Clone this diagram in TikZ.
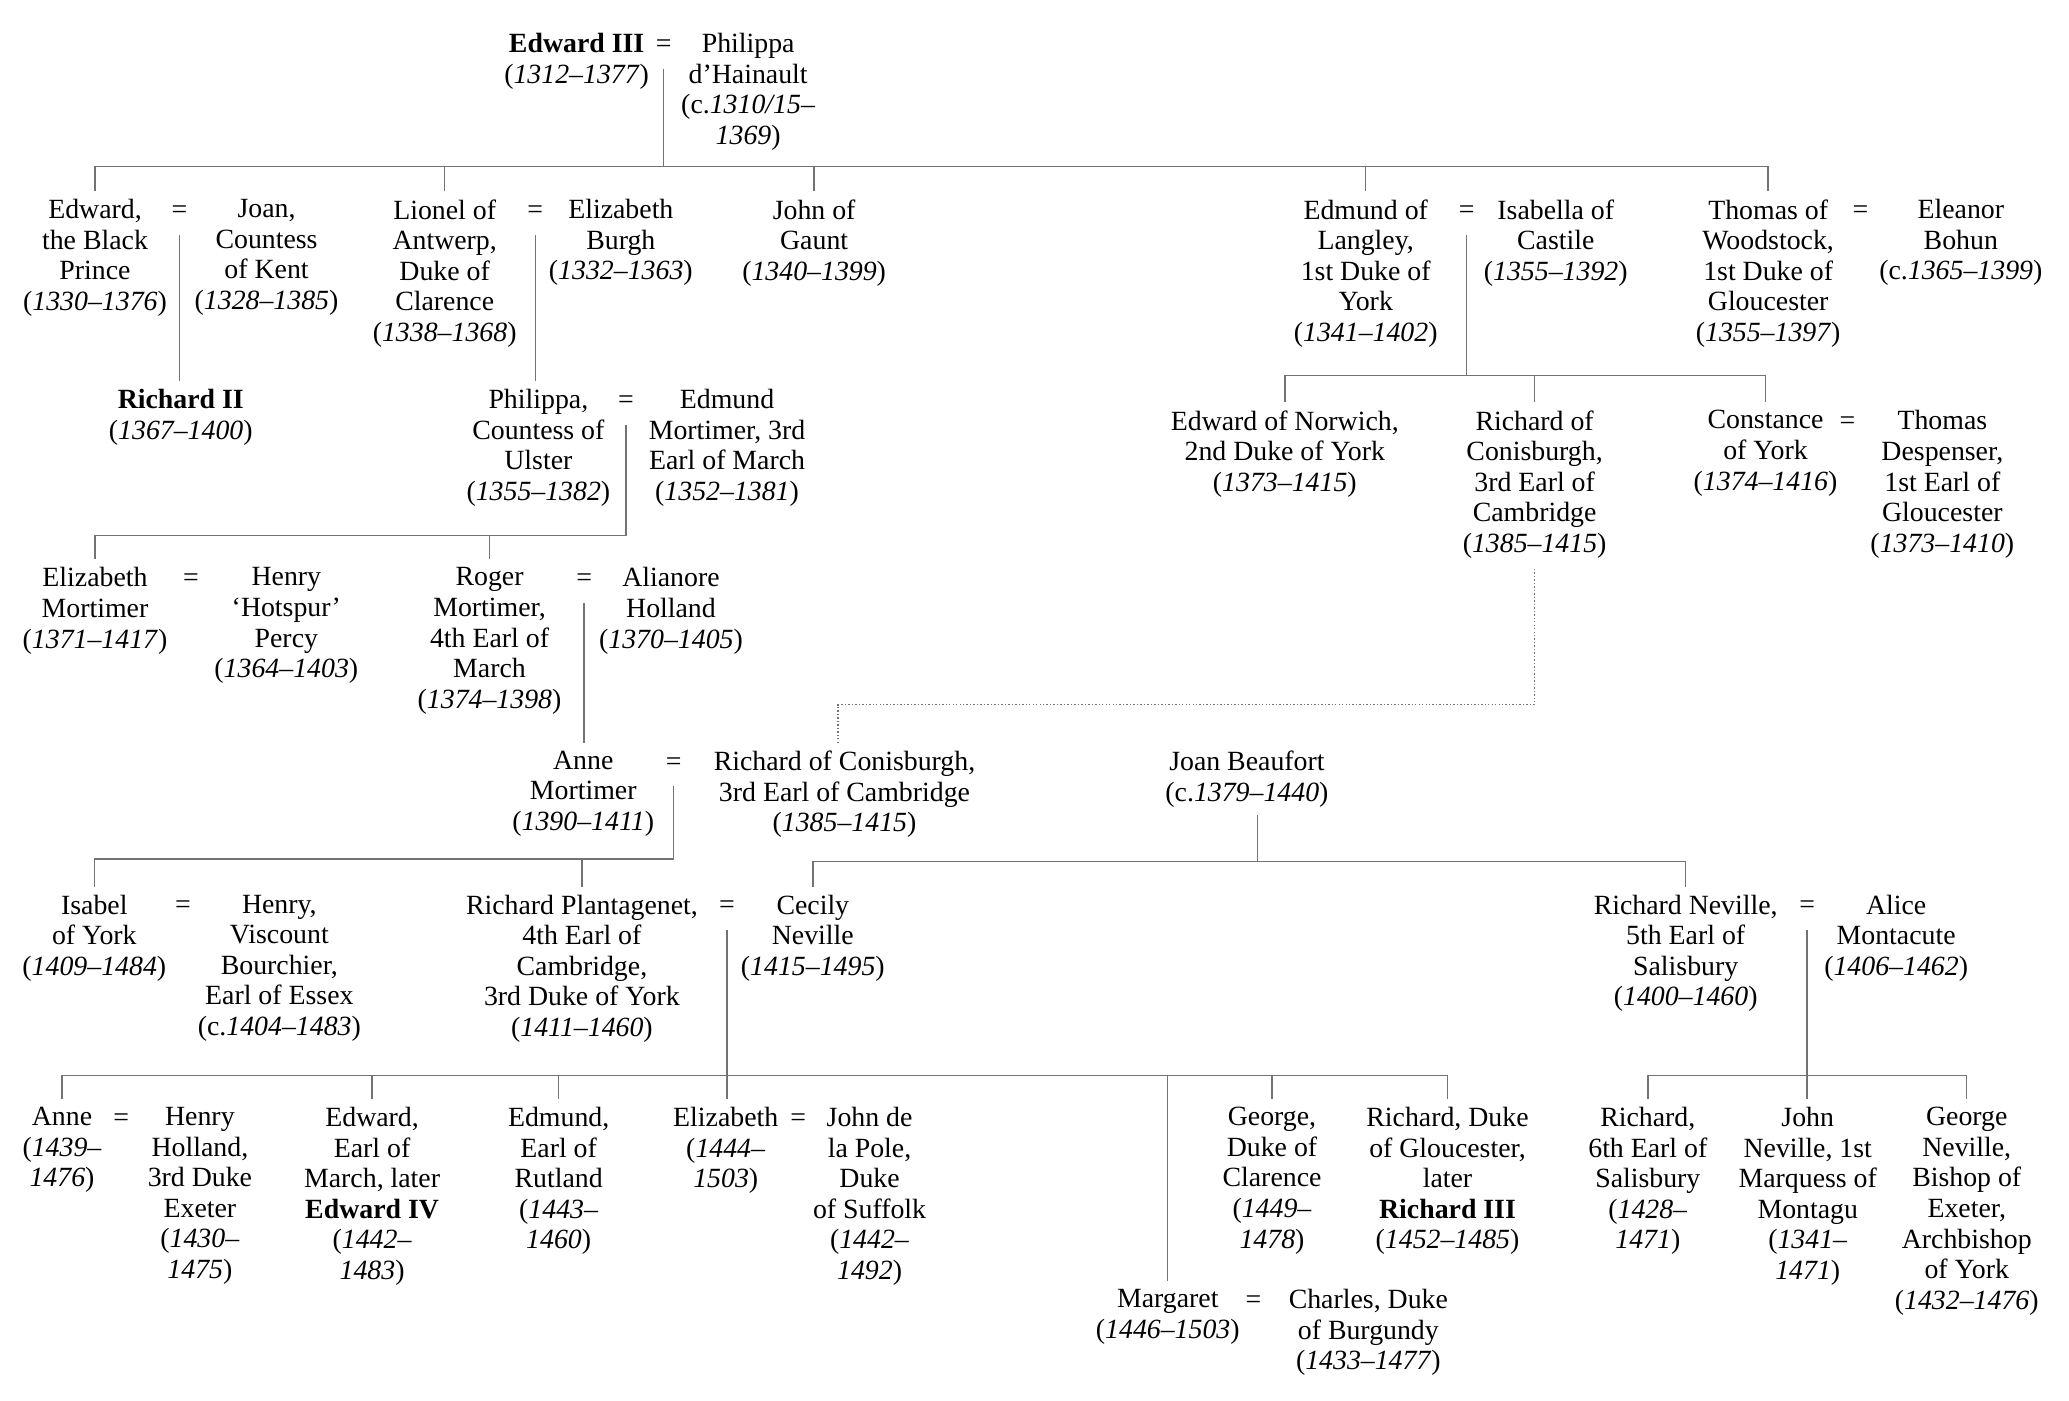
\documentclass[tikz,border=0pt]{standalone}
\usepackage{fontspec}
\setmainfont{Liberation Serif}
\usepackage{tikz}
\usetikzlibrary{calc}
\newcommand{\yr}[1]{(\textit{#1})}

\begin{document}
\begin{tikzpicture}[
      x=0.02cm, y=-0.02cm,
      person/.style={align=center, anchor=north, inner sep=0pt, outer ysep=3.5pt, font=\fontsize{12}{13.2}\selectfont},
      wed/.style={person, text height=8.2pt, text depth=3.6pt},
      kin/.style={draw=black!55, line width=0.6pt},
      kindot/.style={kin, dash pattern=on 0.6pt off 0.9pt}
    ]
      \useasboundingbox (0,0) rectangle (1568,1061);

      \node[person] (e3) at (437,19) {\textbf{Edward III}\\\yr{1312–1377}};
      \node[wed] (m0) at (503,19) {=};
      \node[person] (php) at (567,19) {Philippa\\d’Hainault\\(c.\textit{1310/15–}\\\textit{1369})};

      \node[person] (ebp) at (72,145) {Edward,\\the Black\\Prince\\\yr{1330–1376}};
      \node[wed] (m1) at (136,145) {=};
      \node[person] (joa) at (202,145) {Joan,\\Countess\\of Kent\\\yr{1328–1385}};
      \node[person] (lio) at (337,145) {Lionel of\\Antwerp,\\Duke of\\Clarence\\\yr{1338–1368}};
      \node[wed] (m2) at (405.6,145) {=};
      \node[person] (ebu) at (470.5,145) {Elizabeth\\Burgh\\\yr{1332–1363}};
      \node[person] (jog) at (617,145) {John of\\Gaunt\\\yr{1340–1399}};
      \node[person] (edl) at (1035,145) {Edmund of\\Langley,\\1st Duke of\\York\\\yr{1341–1402}};
      \node[wed] (m3) at (1111.5,145) {=};
      \node[person] (isc) at (1179,145) {Isabella of\\Castile\\\yr{1355–1392}};
      \node[person] (thw) at (1340,145) {Thomas of\\Woodstock,\\1st Duke of\\Gloucester\\\yr{1355–1397}};
      \node[wed] (m4) at (1410,145) {=};
      \node[person] (elb) at (1486,145) {Eleanor\\Bohun\\(c.\textit{1365–1399})};

      \node[person] (ri2) at (137,289) {\textbf{Richard II}\\\yr{1367–1400}};
      \node[person] (phu) at (408,289) {Philippa,\\Countess of\\Ulster\\\yr{1355–1382}};
      \node[wed] (m5) at (474.4,289) {=};
      \node[person] (emo) at (551,289) {Edmund\\Mortimer, 3rd\\Earl of March\\\yr{1352–1381}};

      \node[person] (eno) at (973.7,305) {Edward of Norwich,\\2nd Duke of York\\\yr{1373–1415}};
      \node[person] (rc1) at (1163,305) {Richard of\\Conisburgh,\\3rd Earl of\\Cambridge\\\yr{1385–1415}};
      \node[person] (cst) at (1338,305) {Constance\\of York\\\yr{1374–1416}};
      \node[wed] (m6) at (1400,305) {=};
      \node[person] (tde) at (1472,305) {Thomas\\Despenser,\\1st Earl of\\Gloucester\\\yr{1373–1410}};

      \node[person] (elm) at (72,424) {Elizabeth\\Mortimer\\\yr{1371–1417}};
      \node[wed] (m7) at (144.7,424) {=};
      \node[person] (hho) at (217,424) {Henry\\‘Hotspur’\\Percy\\\yr{1364–1403}};
      \node[person] (rog) at (371,424) {Roger\\Mortimer,\\4th Earl of\\March\\\yr{1374–1398}};
      \node[wed] (m8) at (442.7,424) {=};
      \node[person] (aho) at (508.5,424) {Alianore\\Holland\\\yr{1370–1405}};

      \node[person] (anm) at (442,563) {Anne\\Mortimer\\\yr{1390–1411}};
      \node[wed] (m9) at (510.5,563) {=};
      \node[person] (rc2) at (640,563) {Richard of Conisburgh,\\3rd Earl of Cambridge\\\yr{1385–1415}};
      \node[person] (jbe) at (945,563) {Joan Beaufort\\(c.\textit{1379–1440})};

      \node[person] (isy) at (71.5,672) {Isabel\\of York\\\yr{1409–1484}};
      \node[wed] (m10) at (138.7,672) {=};
      \node[person] (hbo) at (211.7,672) {Henry,\\Viscount\\Bourchier,\\Earl of Essex\\(c.\textit{1404–1483})};
      \node[person] (rpl) at (441,672) {Richard Plantagenet,\\4th Earl of\\Cambridge,\\3rd Duke of York\\\yr{1411–1460}};
      \node[wed] (m11) at (551,672) {=};
      \node[person] (cne) at (616,672) {Cecily\\Neville\\\yr{1415–1495}};
      \node[person] (rne) at (1277.5,672) {Richard Neville,\\5th Earl of\\Salisbury\\\yr{1400–1460}};
      \node[wed] (m12) at (1369.5,672) {=};
      \node[person] (amo) at (1437,672) {Alice\\Montacute\\\yr{1406–1462}};

      \node[person] (an6) at (47,833) {Anne\\(\textit{1439–}\\\textit{1476})};
      \node[wed] (m13) at (91.8,833) {=};
      \node[person] (hhl) at (151.5,833) {Henry\\Holland,\\3rd Duke\\Exeter\\(\textit{1430–}\\\textit{1475})};
      \node[person] (ed4) at (282,833) {Edward,\\Earl of\\March, later\\\textbf{Edward IV}\\(\textit{1442–}\\\textit{1483})};
      \node[person] (edr) at (423.4,833) {Edmund,\\Earl of\\Rutland\\(\textit{1443–}\\\textit{1460})};
      \node[person] (elz) at (550,833) {Elizabeth\\(\textit{1444–}\\\textit{1503})};
      \node[wed] (m14) at (605,833) {=};
      \node[person] (jdp) at (659,833) {John de\\la Pole,\\Duke\\of Suffolk\\(\textit{1442–}\\\textit{1492})};
      \node[person] (gcl) at (964,833) {George,\\Duke of\\Clarence\\(\textit{1449–}\\\textit{1478})};
      \node[person] (ri3) at (1097,833) {Richard, Duke\\of Gloucester,\\later\\\textbf{Richard III}\\\yr{1452–1485}};
      \node[person] (rsa) at (1248.8,833) {Richard,\\6th Earl of\\Salisbury\\(\textit{1428–}\\\textit{1471})};
      \node[person] (jne) at (1370,833) {John\\Neville, 1st\\Marquess of\\Montagu\\(\textit{1341–}\\\textit{1471})};
      \node[person] (gne) at (1490.5,833) {George\\Neville,\\Bishop of\\Exeter,\\Archbishop\\of York\\\yr{1432–1476}};

      \node[person] (mar) at (885,971) {Margaret\\\yr{1446–1503}};
      \node[wed] (m15) at (950,971) {=};
      \node[person] (cha) at (1037,971) {Charles, Duke\\of Burgundy\\\yr{1433–1477}};

      \coordinate (b0) at (503,126);
      \coordinate (b1) at (1111.5,284.7);
      \coordinate (b2) at (474.4,406);
      \coordinate (b3) at (510.5,651);
      \coordinate (b4) at (953,653);
      \coordinate (b5) at (551,815);
      \coordinate (b6) at (1369.5,815);
      \coordinate (dj) at (635,534);

      \draw[kin] (m0.south) -- (b0);
      \draw[kin] (ebp.north) |- (b0) -| (thw.north);
      \draw[kin] (lio.north) -- (lio.north |- b0);
      \draw[kin] (jog.north) -- (jog.north |- b0);
      \draw[kin] (edl.north) -- (edl.north |- b0);

      \draw[kin] (m1.south) -- (m1.south |- ri2.north);
      \draw[kin] (m2.south) -- (m2.south |- phu.north);

      \draw[kin] (m3.south) -- (b1);
      \draw[kin] (eno.north) |- (b1) -| (cst.north);
      \draw[kin] (rc1.north) -- (rc1.north |- b1);

      \draw[kin] (m5.south) -- (b2) -| (elm.north);
      \draw[kin] (rog.north) -- (rog.north |- b2);

      \draw[kin] (m8.south) -- (m8.south |- anm.north);
      \draw[kindot] ([yshift=-1pt]rc1.south) |- (dj) -- (dj |- rc2.north);

      \draw[kin] (m9.south) -- (b3) -| (isy.north);
      \draw[kin] (rpl.north) -- (rpl.north |- b3);

      \draw[kin] (jbe.south -| b4) -- (b4);
      \draw[kin] (cne.north) |- (b4) -| (rne.north);

      \draw[kin] (m11.south) -- (m11.south |- elz.north);
      \draw[kin] (an6.north) |- (b5) -| (ri3.north);
      \draw[kin] (ed4.north) -- (ed4.north |- b5);
      \draw[kin] (edr.north) -- (edr.north |- b5);
      \draw[kin] (mar.north) -- (mar.north |- b5);
      \draw[kin] (gcl.north) -- (gcl.north |- b5);

      \draw[kin] (m12.south) -- (m12.south |- jne.north);
      \draw[kin] (rsa.north) |- (b6) -| (gne.north);
    \end{tikzpicture}
\end{document}
